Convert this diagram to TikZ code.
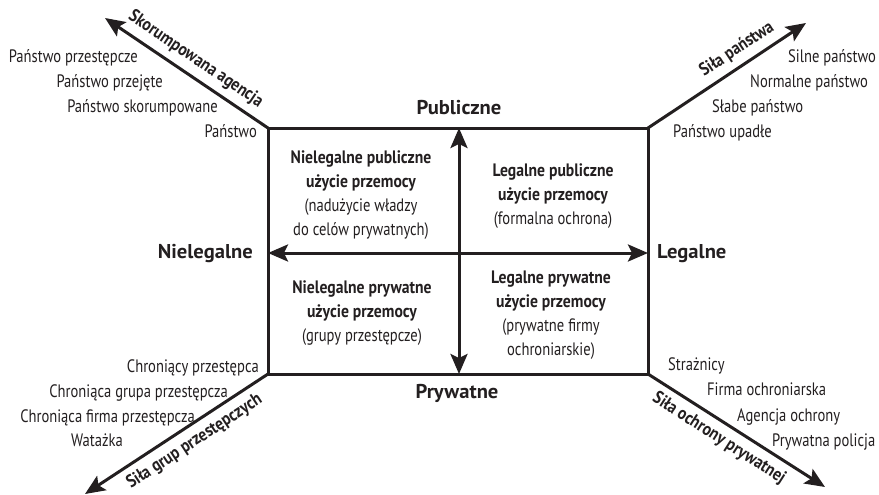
\documentclass[tikz,border=0pt]{standalone}
\usepackage{fontspec}
\setmainfont{PT Sans}[FakeStretch=0.81]
\newfontfamily\boldcond{PT Sans}[FakeStretch=0.87]
\newfontfamily\axisfont{PT Sans}[FakeStretch=1.03]
\usetikzlibrary{arrows.meta}
\definecolor{ink}{HTML}{231F20}

\newcommand{\hd}[1]{{\boldcond\bfseries #1}}

\tikzset{
  item/.style={font=\fontsize{18}{20}\selectfont, inner sep=0pt, text=ink},
  axislabel/.style={font=\axisfont\bfseries\fontsize{20}{22}\selectfont, inner sep=0pt, text=ink},
  quadrant/.style={font=\fontsize{18}{24}\selectfont, align=center, inner sep=0pt, text=ink},
  diaglabel/.style={font=\boldcond\bfseries\fontsize{18}{20}\selectfont, sloped, inner sep=6.5pt, text=ink},
  heavy/.style={line width=3pt, draw=ink},
  headtip/.style={-{Stealth[length=20pt,width=17pt,inset=4pt]}},
  bothtips/.style={{Stealth[length=20pt,width=17pt,inset=4pt]}-{Stealth[length=20pt,width=17pt,inset=4pt]}},
}

\begin{document}
\begin{tikzpicture}[x=1pt,y=-1pt]
\useasboundingbox (0,0) rectangle (879,495);

% box corners and axis end points
\coordinate (tl) at (268,128);
\coordinate (tr) at (648,128);
\coordinate (bl) at (268,374);
\coordinate (br) at (648,374);
\coordinate (mt) at (459,128);
\coordinate (mb) at (459,374);
\coordinate (ml) at (268,253);
\coordinate (mr) at (648,253);

% free ends of the diagonal arrows
\coordinate (tlend) at (105,18);
\coordinate (trend) at (806,23);
\coordinate (blend) at (85,494);
\coordinate (brend) at (825,487);

% the frame
\draw[heavy, line join=miter] (tl) rectangle (br);

% inner axes
\draw[heavy, bothtips] (ml) -- (mr);
\draw[heavy, bothtips] (mt) -- (mb);

% diagonal arrows with their captions
\draw[heavy, headtip] (tl) -- node[diaglabel, above, pos=0.5] {Skorumpowana agencja} (tlend);
\draw[heavy, headtip] (tr) -- node[diaglabel, above, pos=0.62] {Siła państwa} (trend);
\draw[heavy, headtip] (bl) -- node[diaglabel, below, pos=0.45] {Siła grup przestępczych} (blend);
\draw[heavy, headtip] (br) -- node[diaglabel, below, pos=0.45] {Siła ochrony prywatnej} (brend);

% axis names
\node[axislabel, anchor=base] (pub) at (459,114) {Publiczne};
\node[axislabel, anchor=base] (pryw) at (457,398) {Prywatne};
\node[axislabel, anchor=base east] (nieleg) at (253,258) {Nielegalne};
\node[axislabel, anchor=base west] (leg) at (657,258) {Legalne};

% quadrants
\node[quadrant] (q1) at (361,195) {\hd{Nielegalne publiczne}\\\hd{użycie przemocy}\\(nadużycie władzy\\do celów prywatnych)};
\node[quadrant] (q2) at (553,196) {\hd{Legalne publiczne}\\\hd{użycie przemocy}\\(formalna ochrona)};
\node[quadrant] (q3) at (362,313) {\hd{Nielegalne prywatne}\\\hd{użycie przemocy}\\(grupy przestępcze)};
\node[quadrant] (q4) at (551,315) {\hd{Legalne prywatne}\\\hd{użycie przemocy}\\(prywatne firmy\\ochroniarskie)};

% scale along the corrupt agency arrow
\node[item, anchor=base east] (a1) at (138,63) {Państwo przestępcze};
\node[item, anchor=base east] (a2) at (163,88) {Państwo przejęte};
\node[item, anchor=base east] (a3) at (218,113) {Państwo skorumpowane};
\node[item, anchor=base east] (a4) at (257,138) {Państwo};

% scale along the state strength arrow
\node[item, anchor=base west] (b1) at (788,63) {Silne państwo};
\node[item, anchor=base west] (b2) at (750,88) {Normalne państwo};
\node[item, anchor=base west] (b3) at (712,113) {Słabe państwo};
\node[item, anchor=base west] (b4) at (673,137) {Państwo upadłe};

% scale along the criminal group arrow
\node[item, anchor=base east] (c1) at (259,372) {Chroniący przestępca};
\node[item, anchor=base east] (c2) at (228,397) {Chroniąca grupa przestępcza};
\node[item, anchor=base east] (c3) at (195,422) {Chroniąca firma przestępcza};
\node[item, anchor=base east] (c4) at (123,446) {Watażka};

% scale along the private protection arrow
\node[item, anchor=base west] (d1) at (668,370) {Strażnicy};
\node[item, anchor=base west] (d2) at (707,395) {Firma ochroniarska};
\node[item, anchor=base west] (d3) at (737,421) {Agencja ochrony};
\node[item, anchor=base west] (d4) at (772,446) {Prywatna policja};
\end{tikzpicture}
\end{document}
